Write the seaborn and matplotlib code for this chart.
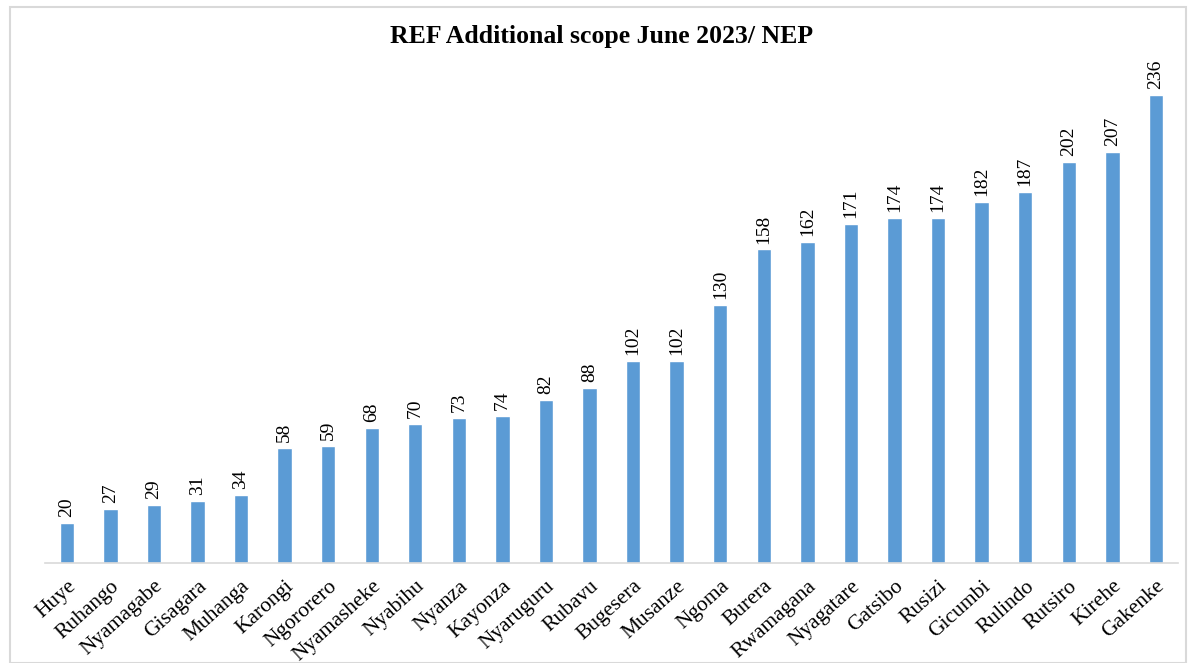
import matplotlib.pyplot as plt
import seaborn as sns
import pandas as pd
from matplotlib.patches import Rectangle

districts = ['Huye', 'Ruhango', 'Nyamagabe', 'Gisagara', 'Muhanga', 'Karongi',
             'Ngororero', 'Nyamasheke', 'Nyabihu', 'Nyanza', 'Kayonza', 'Nyaruguru',
             'Rubavu', 'Bugesera', 'Musanze', 'Ngoma', 'Burera', 'Rwamagana',
             'Nyagatare', 'Gatsibo', 'Rusizi', 'Gicumbi', 'Rulindo', 'Rutsiro',
             'Kirehe', 'Gakenke']
scope = [20, 27, 29, 31, 34, 58, 59, 68, 70, 73, 74, 82, 88, 102, 102, 130,
         158, 162, 171, 174, 174, 182, 187, 202, 207, 236]

df = pd.DataFrame({'district': districts, 'scope': scope})

sns.set_style('white')
plt.rcParams['font.family'] = ['Liberation Serif', 'DejaVu Serif']
plt.rcParams['text.color'] = 'black'
plt.rcParams['xtick.color'] = 'black'

fig = plt.figure(figsize=(11.91, 6.63), dpi=100)
ax = fig.add_axes([0.0378, 0.151, 0.951, 0.748])

sns.barplot(data=df, x='district', y='scope', color='#5B9BD5', width=0.33,
            saturation=1, ax=ax)

# value labels above bars
for i, v in enumerate(scope):
    ax.text(i, v + 3, str(v), rotation=90, ha='center', va='bottom', fontsize=14)

ax.set_ylim(0, 250)
ax.set_xlim(-0.5, len(districts) - 0.5)
ax.set_yticks([])
ax.set_xlabel('')
ax.set_ylabel('')
ax.set_xticks(range(len(districts)))
ax.set_xticklabels(districts, rotation=42, ha='right', va='top',
                   rotation_mode='anchor', fontsize=15.5, color='black')
ax.tick_params(axis='x', length=0, pad=10)
for s in ['top', 'right', 'left']:
    ax.spines[s].set_visible(False)
ax.spines['bottom'].set_color('#d9d9d9')
ax.spines['bottom'].set_linewidth(1.2)

fig.text(0.505, 0.945, 'REF Additional scope June 2023/ NEP', ha='center',
         va='center', fontsize=18.5, fontweight='bold', color='black')

fig.patches.append(Rectangle((10 / 1191, 0.0), 1176 / 1191, 656 / 663,
                             transform=fig.transFigure, fill=False,
                             edgecolor='#d9d9d9', linewidth=1.5))

fig.savefig('out.png', dpi=100)
